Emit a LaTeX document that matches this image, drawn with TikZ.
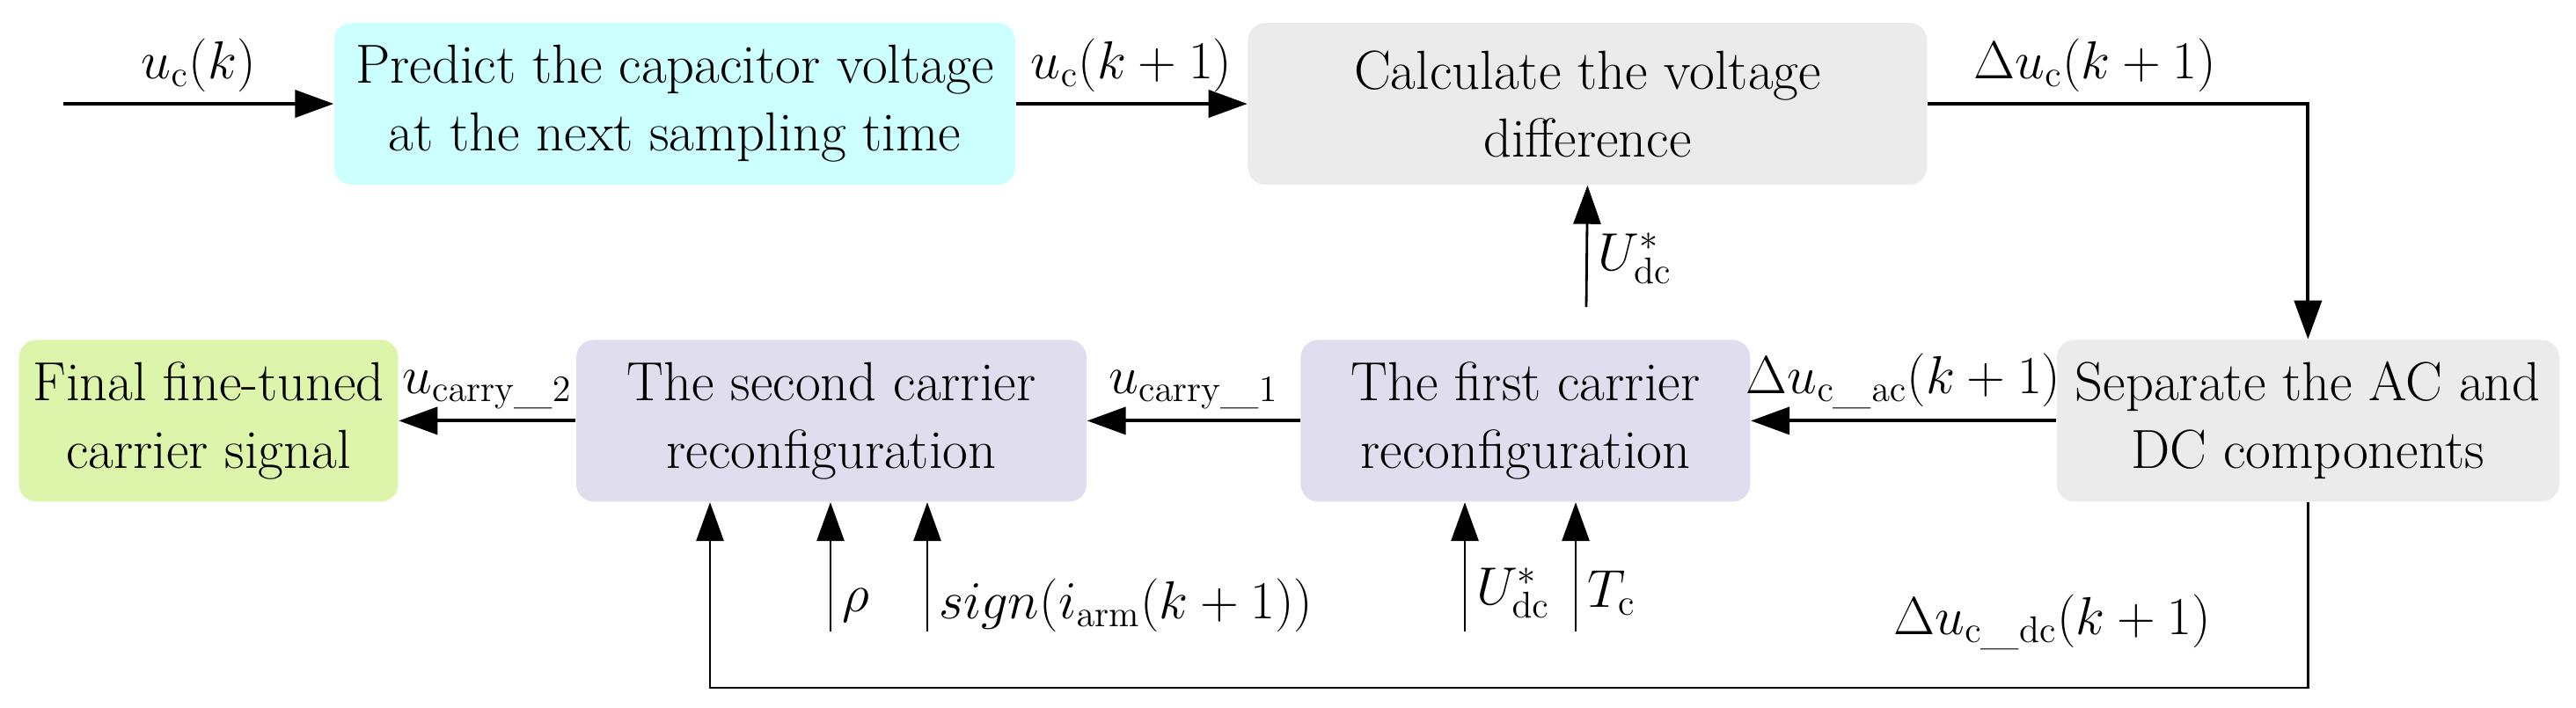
\documentclass[tikz,border=0pt]{standalone}
\usetikzlibrary{positioning, arrows.meta}
\definecolor{predictfill}{RGB}{204,255,255}
\definecolor{grayfill}{RGB}{235,235,235}
\definecolor{carrierfill}{RGB}{224,222,238}
\definecolor{finalfill}{RGB}{220,245,170}

\begin{document}
\begin{tikzpicture}[
  font=\fontsize{17.8}{21.9}\selectfont,
  >={Triangle[length=4.4mm, width=3.1mm]},
  block/.style={rectangle, rounded corners=2mm, align=center, minimum height=1.84cm, inner sep=0pt},
  flow/.style={->, line width=1.1pt},
  feed/.style={->, line width=0.8pt}
]
\useasboundingbox (0,0) rectangle (29.28,8.04);
\node[block, fill=predictfill, minimum width=7.74cm] (predict) at (7.67,6.86) {Predict the capacitor voltage\\at the next sampling time};
\node[block, fill=grayfill, minimum width=7.72cm, right=2.63cm of predict] (calc) {Calculate the voltage\\difference};
\node[block, fill=grayfill, minimum width=5.71cm, below right=1.75cm and 1.46cm of calc] (separate) {Separate the AC and\\DC components};
\node[block, fill=carrierfill, minimum width=5.11cm, left=3.47cm of separate] (first) {The first carrier\\reconfiguration};
\node[block, fill=carrierfill, minimum width=5.80cm, left=2.42cm of first] (second) {The second carrier\\reconfiguration};
\node[block, fill=finalfill, minimum width=4.31cm, left=2.01cm of second] (final) {Final fine-tuned\\carrier signal};
\coordinate (in) at (0.72,6.86);
\coordinate (udcref) at (18.03,4.55);
\coordinate (rho) at (9.44,0.86);
\coordinate (sgn) at (10.54,0.86);
\coordinate (udcfirst) at (16.65,0.86);
\coordinate (tc) at (17.91,0.86);
\coordinate (fb) at (8.07,0.22);
% upper row
\draw[flow] (in) -- node[above] {$u_{\mathrm{c}}(k)$} (predict.west);
\draw[flow] (predict.east) -- node[above] {$u_{\mathrm{c}}(k+1)$} (calc.west);
\draw[flow] (calc.east) -| node[above, pos=0.22] {$\Delta u_{\mathrm{c}}(k+1)$} (separate.north);
\draw[feed] (udcref) -- node[right, pos=0.4] {$U^{*}_{\mathrm{dc}}$} (calc.south);
% lower row
\draw[flow] (separate.west) -- node[above] {$\Delta u_{\mathrm{c\_ac}}(k+1)$} (first.east);
\draw[flow] (first.west) -- node[above] {$u_{\mathrm{carry\_1}}$} (second.east);
\draw[flow] (second.west) -- node[above] {$u_{\mathrm{carry\_2}}$} (final.east);
\draw[feed] (udcfirst) -- node[right, pos=0.3] {$U^{*}_{\mathrm{dc}}$} (udcfirst |- first.south);
\draw[feed] (tc) -- node[right, pos=0.3] {$T_{\mathrm{c}}$} (tc |- first.south);
\draw[feed] (rho) -- node[right, pos=0.2] {$\rho$} (rho |- second.south);
\draw[feed] (sgn) -- node[right, pos=0.2] {$sign(i_{\mathrm{arm}}(k+1))$} (sgn |- second.south);
\draw[feed] (separate.south) |- node[pos=0.58, above=3mm] {$\Delta u_{\mathrm{c\_dc}}(k+1)$} (fb) -- (fb |- second.south);
\end{tikzpicture}
\end{document}
